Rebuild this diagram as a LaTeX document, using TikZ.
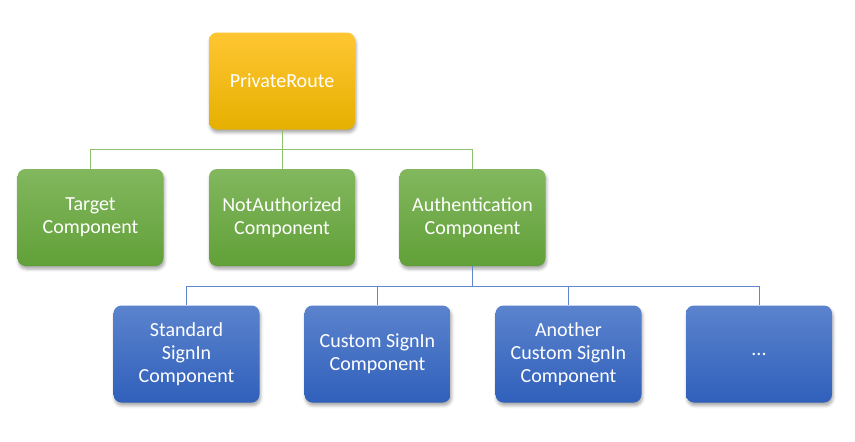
\documentclass[tikz,border=0pt]{standalone}
\usepackage{fontspec}
\setmainfont{Carlito}
\usetikzlibrary{shadows.blur}
\definecolor{ytop}{HTML}{FFC633}
\definecolor{ybot}{HTML}{E6B000}
\definecolor{gtop}{HTML}{82B75E}
\definecolor{gbot}{HTML}{61A038}
\definecolor{btop}{HTML}{5B83CD}
\definecolor{bbot}{HTML}{3060BB}
\definecolor{gline}{HTML}{8CC06C}
\definecolor{bline}{HTML}{5F86CE}
\tikzset{
  box/.style={rounded corners=8pt, minimum width=146pt, minimum height=97pt,
    text=white, align=center, font=\fontsize{20}{23}\selectfont, inner sep=2pt,
    blur shadow={shadow xshift=1pt, shadow yshift=-3pt, shadow blur radius=3pt, shadow opacity=35}},
  ybox/.style={box, top color=ytop, bottom color=ybot},
  gbox/.style={box, top color=gtop, bottom color=gbot},
  bbox/.style={box, top color=btop, bottom color=bbot},
  gconn/.style={draw=gline, line width=1pt},
  bconn/.style={draw=bline, line width=1pt},
}
\begin{document}
\begin{tikzpicture}[x=1pt,y=-1pt]
\useasboundingbox (0,0) rectangle (855,442);
\node[ybox] (pr) at (282,81) {PrivateRoute};
\node[gbox] (tc) at (90.5,217.5) {Target\\Component};
\node[gbox] (na) at (282,217.5) {NotAuthorized\\Component};
\node[gbox] (au) at (472.5,217.5) {Authentication\\Component};
\node[bbox] (ss) at (186.5,354) {Standard\\SignIn\\Component};
\node[bbox] (cs) at (377.5,354) {Custom SignIn\\Component};
\node[bbox] (ac) at (568.5,354) {Another\\Custom SignIn\\Component};
\node[bbox] (dd) at (759,354) {...};
\coordinate (gy) at (0,149);
\coordinate (by) at (0,286);
\draw[gconn] (pr.south) -- (pr.south |- gy);
\draw[gconn] (tc.north) -- (tc.north |- gy) -- (au.north |- gy) -- (au.north);
\draw[gconn] (na.north) -- (na.north |- gy);
\draw[bconn] (au.south) -- (au.south |- by);
\draw[bconn] (ss.north) -- (ss.north |- by) -- (dd.north |- by) -- (dd.north);
\draw[bconn] (cs.north) -- (cs.north |- by);
\draw[bconn] (ac.north) -- (ac.north |- by);
\end{tikzpicture}
\end{document}
